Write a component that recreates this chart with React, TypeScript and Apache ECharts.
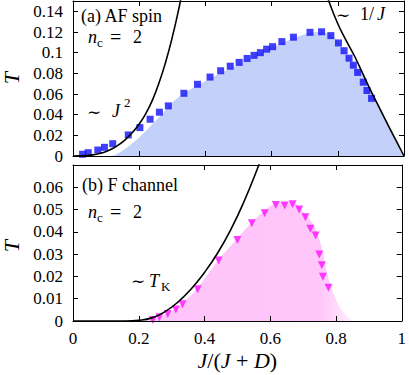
import React, { useEffect, useRef } from "react";
import * as echarts from "echarts";

const FONT = '"Liberation Serif", "Times New Roman", serif';
const SIMFONT = '"DejaVu Serif", serif';

// (a) AF spin: blue squares
const afJ = [0.029, 0.046, 0.075, 0.095, 0.12, 0.167, 0.202, 0.233, 0.261, 0.288, 0.335, 0.376, 0.414, 0.446, 0.475, 0.502, 0.526, 0.547, 0.566, 0.585, 0.603, 0.631, 0.666, 0.716, 0.751, 0.779, 0.802, 0.819, 0.834, 0.847, 0.86, 0.877, 0.888, 0.902];
const afT = [0.0017, 0.0032, 0.0058, 0.0084, 0.0119, 0.0204, 0.0275, 0.0356, 0.0424, 0.0485, 0.0607, 0.0694, 0.0764, 0.0825, 0.0869, 0.0906, 0.0944, 0.0974, 0.1, 0.1034, 0.1058, 0.1107, 0.115, 0.1197, 0.1202, 0.1165, 0.1094, 0.1019, 0.0947, 0.0879, 0.0809, 0.0714, 0.0634, 0.0558];

// (a) shaded region boundary
const afFillJ = [0.1, 0.127, 0.166, 0.2, 0.25, 0.308, 0.353, 0.414, 0.475, 0.526, 0.585, 0.631, 0.666, 0.716, 0.751, 0.779, 0.802, 0.82, 0.84, 0.875, 0.915, 0.958, 1];
const afFillT = [0, 0.001, 0.009, 0.018, 0.034, 0.054, 0.064, 0.075, 0.085, 0.093, 0.102, 0.109, 0.114, 0.119, 0.12, 0.117, 0.11, 0.101, 0.093, 0.078, 0.053, 0.026, 0];

// (a) ~J^2 guide curve (read at even steps)
const sqJ = [0, 0.02, 0.04, 0.06, 0.08, 0.1, 0.12, 0.14, 0.16, 0.18, 0.2, 0.22, 0.24, 0.26, 0.28, 0.3, 0.32, 0.34];
const sqT = [0, 0.0001, 0.0004, 0.0011, 0.0024, 0.0043, 0.0072, 0.0112, 0.0164, 0.0229, 0.031, 0.0411, 0.0541, 0.0708, 0.091, 0.115, 0.143, 0.175];

// (a) ~1/J guide curve
const invJ = [0.75, 0.775, 0.8, 0.825, 0.85, 0.875, 0.9, 0.925, 0.95, 0.975, 1];
const invT = [0.172, 0.148, 0.128, 0.112, 0.097, 0.08, 0.063, 0.047, 0.031, 0.0155, 0];

// (b) F channel: magenta triangles
const fJ = [0.243, 0.263, 0.288, 0.313, 0.333, 0.379, 0.443, 0.5, 0.544, 0.583, 0.617, 0.644, 0.668, 0.688, 0.707, 0.722, 0.738, 0.749, 0.757, 0.76, 0.777];
const fT = [0.0005, 0.0017, 0.0031, 0.0052, 0.0075, 0.0143, 0.0271, 0.0364, 0.0439, 0.0484, 0.0521, 0.0518, 0.0524, 0.05, 0.0466, 0.0414, 0.0384, 0.0298, 0.025, 0.0198, 0.0149];

// (b) shaded region boundary
const fFillJ = [0.215, 0.25, 0.288, 0.313, 0.333, 0.379, 0.443, 0.5, 0.544, 0.595, 0.625, 0.666, 0.706, 0.736, 0.756, 0.771, 0.792, 0.817, 0.847, 0.87];
const fFillT = [0, 0.001, 0.0035, 0.0056, 0.0078, 0.0148, 0.0275, 0.037, 0.0443, 0.051, 0.0533, 0.0533, 0.0481, 0.0421, 0.0332, 0.0228, 0.0124, 0.0049, 0.0006, 0];

// (b) ~T_K guide curve (read at even steps)
const tkJ = [0, 0.08, 0.16, 0.2, 0.24, 0.28, 0.32, 0.36, 0.4, 0.44, 0.48, 0.52, 0.56, 0.6];
const tkT = [0, 0, 0, 0.0003, 0.0014, 0.0042, 0.0086, 0.0145, 0.0218, 0.0305, 0.041, 0.0535, 0.068, 0.084];

// axis ticks
const xTicks = [0, 0.2, 0.4, 0.6, 0.8, 1];
const yTopTicks = [0, 0.02, 0.04, 0.06, 0.08, 0.1, 0.12, 0.14];
const yBotTicks = [0, 0.01, 0.02, 0.03, 0.04, 0.05, 0.06];

const zip = (a: number[], b: number[]) => a.map((v, i) => [v, b[i]]);

const fmt = (v: number) => String(+v.toFixed(2));

function axisBase(showLabel: boolean) {
  return {
    type: "value" as const,
    axisLine: { show: true, onZero: false, lineStyle: { color: "#000", width: 1 } },
    axisTick: { show: true, inside: true, length: 5, lineStyle: { color: "#000", width: 1 } },
    axisLabel: {
      show: showLabel,
      color: "#000",
      fontFamily: FONT,
      fontSize: 17,
      formatter: fmt,
      showMaxLabel: true,
    },
    splitLine: { show: false },
    z: 10,
  };
}

function xAxis(grid: number, pos: "top" | "bottom", label: boolean) {
  const b = axisBase(label);
  return {
    ...b,
    gridIndex: grid,
    position: pos,
    min: xTicks[0],
    max: xTicks[xTicks.length - 1],
    interval: xTicks[1] - xTicks[0],
    axisLabel: { ...b.axisLabel, margin: 9 },
  };
}

function yAxis(grid: number, pos: "left" | "right", label: boolean, ticks: number[], max: number) {
  const b = axisBase(label);
  return {
    ...b,
    gridIndex: grid,
    position: pos,
    min: ticks[0],
    max,
    interval: ticks[1] - ticks[0],
    axisLabel: { ...b.axisLabel, margin: 10, showMaxLabel: false },
  };
}

function txt(text: string, x: number, y: number, size: number, italic = false, align = "left", family = FONT) {
  return {
    type: "text",
    x,
    y,
    z: 20,
    style: {
      text,
      font: `${italic ? "italic " : ""}${size}px ${family}`,
      fill: "#000",
      textAlign: align,
      textVerticalAlign: "middle",
    },
  };
}

function curve(xi: number, yi: number, data: number[][]) {
  return {
    type: "line",
    xAxisIndex: xi,
    yAxisIndex: yi,
    data,
    showSymbol: false,
    smooth: 0.5,
    lineStyle: { color: "#000", width: 1.6 },
    z: 3,
    silent: true,
  };
}

export default function App() {
  const ref = useRef<HTMLDivElement>(null);
  useEffect(() => {
    if (!ref.current) return;
    const chart = echarts.init(ref.current, undefined, { renderer: "svg" });
    const option = {
      animation: false,
      backgroundColor: "#fff",
      grid: [
        { left: 73, top: 1, width: 331, height: 155 },
        { left: 73, top: 165, width: 331, height: 156 },
      ],
      xAxis: [
        xAxis(0, "bottom", false),
        xAxis(0, "top", false),
        {
          ...xAxis(1, "bottom", true),
          name: "{i|J}/({i|J} + {i|D})",
          nameLocation: "middle",
          nameGap: 28,
          nameTextStyle: {
            color: "#000",
            fontFamily: FONT,
            fontSize: 22,
            rich: { i: { fontStyle: "italic", fontFamily: FONT, fontSize: 22, color: "#000" } },
          },
        },
        xAxis(1, "top", false),
      ],
      yAxis: [
        yAxis(0, "left", true, yTopTicks, 0.15),
        yAxis(0, "right", false, yTopTicks, 0.15),
        yAxis(1, "left", true, yBotTicks, 0.07),
        yAxis(1, "right", false, yBotTicks, 0.07),
      ],
      series: [
        {
          type: "line",
          xAxisIndex: 0,
          yAxisIndex: 0,
          data: zip(afFillJ, afFillT),
          showSymbol: false,
          smooth: 0.3,
          lineStyle: { width: 0 },
          areaStyle: { color: "#c2d0fa", opacity: 1 },
          z: 1,
          silent: true,
        },
        {
          type: "scatter",
          xAxisIndex: 0,
          yAxisIndex: 0,
          data: zip(afJ, afT),
          symbol: "rect",
          symbolSize: 7,
          itemStyle: { color: "#1010fa" },
          z: 2,
        },
        curve(0, 0, zip(sqJ, sqT)),
        curve(0, 0, zip(invJ, invT)),
        {
          type: "line",
          xAxisIndex: 2,
          yAxisIndex: 2,
          data: zip(fFillJ, fFillT),
          showSymbol: false,
          smooth: 0.3,
          lineStyle: { width: 0 },
          areaStyle: {
            opacity: 1,
            color: new echarts.graphic.LinearGradient(0, 0, 1, 0, [
              { offset: 0, color: "#ffc4fa" },
              { offset: 0.82, color: "#ffc6fa" },
              { offset: 1, color: "#fff6fe" },
            ]),
          },
          z: 1,
          silent: true,
        },
        {
          type: "scatter",
          xAxisIndex: 2,
          yAxisIndex: 2,
          data: zip(fJ, fT),
          symbol: "triangle",
          symbolRotate: 180,
          symbolSize: 8,
          itemStyle: { color: "#ff10ff" },
          z: 2,
        },
        curve(2, 2, zip(tkJ, tkT)),
      ],
      graphic: [
        // y-axis titles
        { ...txt("T", 11, 78, 22, true, "center"), rotation: Math.PI / 2 },
        { ...txt("T", 11, 246, 22, true, "center"), rotation: Math.PI / 2 },
        // panel (a)
        txt("(a) AF spin", 81, 16, 18),
        txt("n", 88, 37, 18, true),
        txt("c", 97, 42, 13),
        txt("=", 110, 37, 20),
        txt("2", 133, 37, 18),
        txt("\u223C", 87, 112, 17, false, "left", SIMFONT),
        txt("J", 112, 111, 18, true),
        txt("2", 124, 102, 13),
        txt("\u223C", 336, 15, 17, false, "left", SIMFONT),
        txt("1/", 360, 14, 18),
        txt("J", 377, 14, 18, true),
        // panel (b)
        txt("(b) F channel", 82, 185, 18),
        txt("n", 88, 212, 18, true),
        txt("c", 97, 217, 13),
        txt("=", 110, 212, 20),
        txt("2", 133, 212, 18),
        txt("\u223C", 131, 281, 17, false, "left", SIMFONT),
        txt("T", 149, 281, 18, true),
        txt("K", 161, 286, 13),
      ],
    };
    chart.setOption(option as any);
    return () => chart.dispose();
  }, []);
  return (
    <div
      ref={ref}
      style={{ position: "absolute", left: 0, top: 0, width: 409, height: 375, background: "#fff" }}
    />
  );
}
